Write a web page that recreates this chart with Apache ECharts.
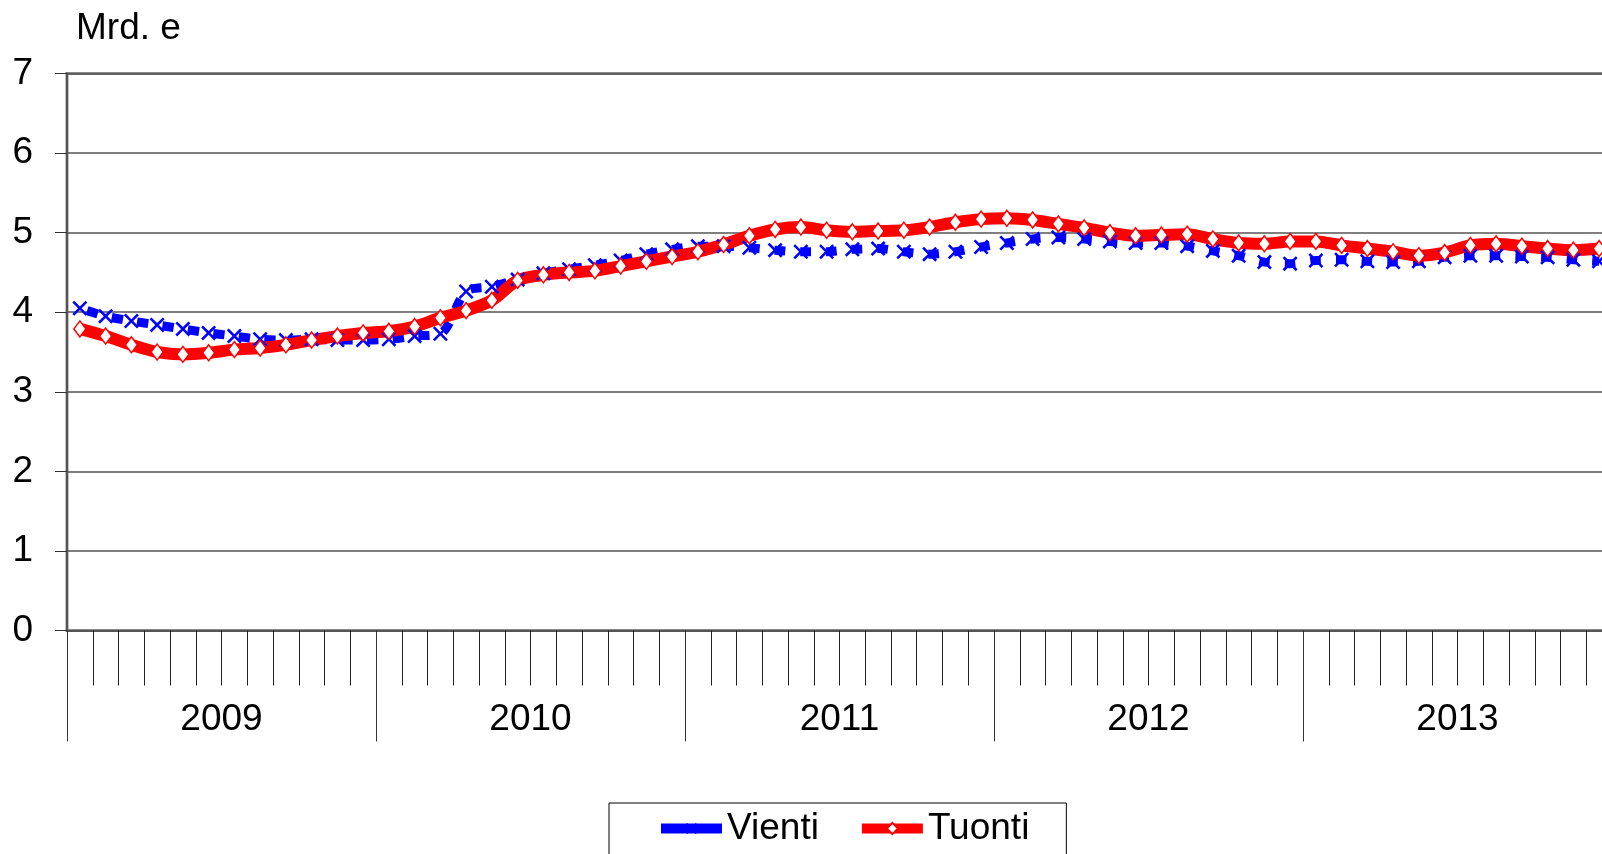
<!DOCTYPE html>
<html>
<head>
<meta charset="utf-8">
<script src="https://cdn.jsdelivr.net/npm/echarts@6/dist/echarts.min.js"></script>
<style>
    html, body { margin: 0; padding: 0; background: #fff; overflow: hidden; }
    #chart { width: 1612px; height: 854px; }
</style>
</head>
<body>
<div id="chart"></div>
<script>
(function(){

    var years = ['2009', '2010', '2011', '2012', '2013'];
    // kuukausiarvot, Mrd. e
    var vienti = [4.05, 3.95, 3.89, 3.84, 3.79, 3.74, 3.70, 3.66, 3.65, 3.66, 3.65, 3.65,
                  3.66, 3.70, 3.73, 4.26, 4.32, 4.41, 4.49, 4.54, 4.59, 4.65, 4.73, 4.79,
                  4.83, 4.83, 4.81, 4.78, 4.76, 4.76, 4.79, 4.80, 4.76, 4.73, 4.76, 4.82,
                  4.87, 4.92, 4.94, 4.92, 4.89, 4.87, 4.87, 4.83, 4.77, 4.71, 4.63, 4.61,
                  4.65, 4.66, 4.64, 4.63, 4.64, 4.69, 4.71, 4.71, 4.70, 4.69, 4.66, 4.64];
    var tuonti = [3.79, 3.70, 3.59, 3.50, 3.47, 3.49, 3.53, 3.55, 3.59, 3.65, 3.70, 3.74,
                  3.76, 3.82, 3.93, 4.02, 4.15, 4.40, 4.47, 4.50, 4.52, 4.58, 4.64, 4.70,
                  4.76, 4.85, 4.96, 5.04, 5.07, 5.03, 5.01, 5.02, 5.03, 5.07, 5.13, 5.17,
                  5.18, 5.16, 5.11, 5.06, 5.00, 4.96, 4.97, 4.98, 4.92, 4.87, 4.86, 4.89,
                  4.89, 4.84, 4.80, 4.76, 4.71, 4.75, 4.84, 4.86, 4.83, 4.80, 4.78, 4.80];

    var months = [];
    for (var y = 0; y < years.length; y++) {
        for (var m = 1; m <= 12; m++) {
            months.push(years[y] + '-' + m);
        }
    }

    var font = 'Liberation Sans, Arial, sans-serif';
    var fs = 37;
    var xMark = 'path://M0,1.7 L1.7,0 L7,5.3 L12.3,0 L14,1.7 L8.7,7 L14,12.3 L12.3,14 L7,8.7 L1.7,14 L0,12.3 L5.3,7 Z';

    var chart = echarts.init(document.getElementById('chart'));

    var option = {
        animation: false,
        backgroundColor: '#fff',
        textStyle: { fontFamily: font },
        grid: {
            left: 67, top: 73.5, width: 1545, height: 557,
            show: true, borderColor: '#888', borderWidth: 3
        },
        graphic: [{
            type: 'text',
            x: 76, y: 29,
            style: { text: 'Mrd. e', font: fs + 'px ' + font, fill: '#000', verticalAlign: 'middle' }
        }],
        legend: {
            left: 609, top: 803,
            padding: [7, 37, 30, 47],
            itemGap: 38,
            itemWidth: 61,
            itemHeight: 14,
            borderColor: '#000',
            borderWidth: 1,
            textStyle: { fontSize: fs, color: '#000', fontFamily: font },
            data: [
                { name: 'Vienti', lineStyle: { type: 'solid', width: 10 } },
                { name: 'Tuonti', lineStyle: { type: 'solid', width: 10 } }
            ]
        },
        xAxis: [
            {
                type: 'category',
                data: months,
                position: 'bottom',
                boundaryGap: true,
                axisLine: { show: true, lineStyle: { color: '#555', width: 2 } },
                axisTick: { show: true, interval: 0, length: 55, lineStyle: { color: '#222', width: 1 } },
                axisLabel: { show: false },
                splitLine: { show: false }
            },
            {
                type: 'category',
                data: years,
                position: 'bottom',
                offset: 0,
                boundaryGap: true,
                axisLine: { show: false },
                axisTick: { show: true, interval: 0, length: 111, lineStyle: { color: '#333', width: 1 } },
                axisLabel: { fontSize: fs, lineHeight: fs, margin: 71, color: '#000', fontFamily: font },
                splitLine: { show: false }
            }
        ],
        yAxis: {
            type: 'value',
            min: 0, max: 7, interval: 1,
            axisLine: { show: true, lineStyle: { color: '#555', width: 2 } },
            axisTick: { show: true, length: 12, lineStyle: { color: '#333' } },
            axisLabel: { fontSize: fs, margin: 34, color: '#000', fontFamily: font },
            splitLine: { show: true, lineStyle: { color: '#555', width: 1.5 } }
        },
        series: [
            {
                name: 'Vienti',
                type: 'line',
                data: vienti,
                smooth: 0.3,
                color: '#0000FF',
                symbol: xMark,
                symbolSize: 15,
                showAllSymbol: true,
                lineStyle: { width: 9, type: [11, 14.7], dashOffset: 18, color: '#0000FF' },
                itemStyle: { color: '#0000FF' }
            },
            {
                name: 'Tuonti',
                type: 'line',
                data: tuonti,
                smooth: 0.3,
                color: '#FF0000',
                symbol: 'diamond',
                symbolSize: [12, 16],
                showAllSymbol: true,
                lineStyle: { width: 12, color: '#FF0000' },
                itemStyle: { color: '#fff', borderColor: '#FF0000', borderWidth: 1.5 }
            }
        ]
    };

    chart.setOption(option);

})();
</script>
</body>
</html>
